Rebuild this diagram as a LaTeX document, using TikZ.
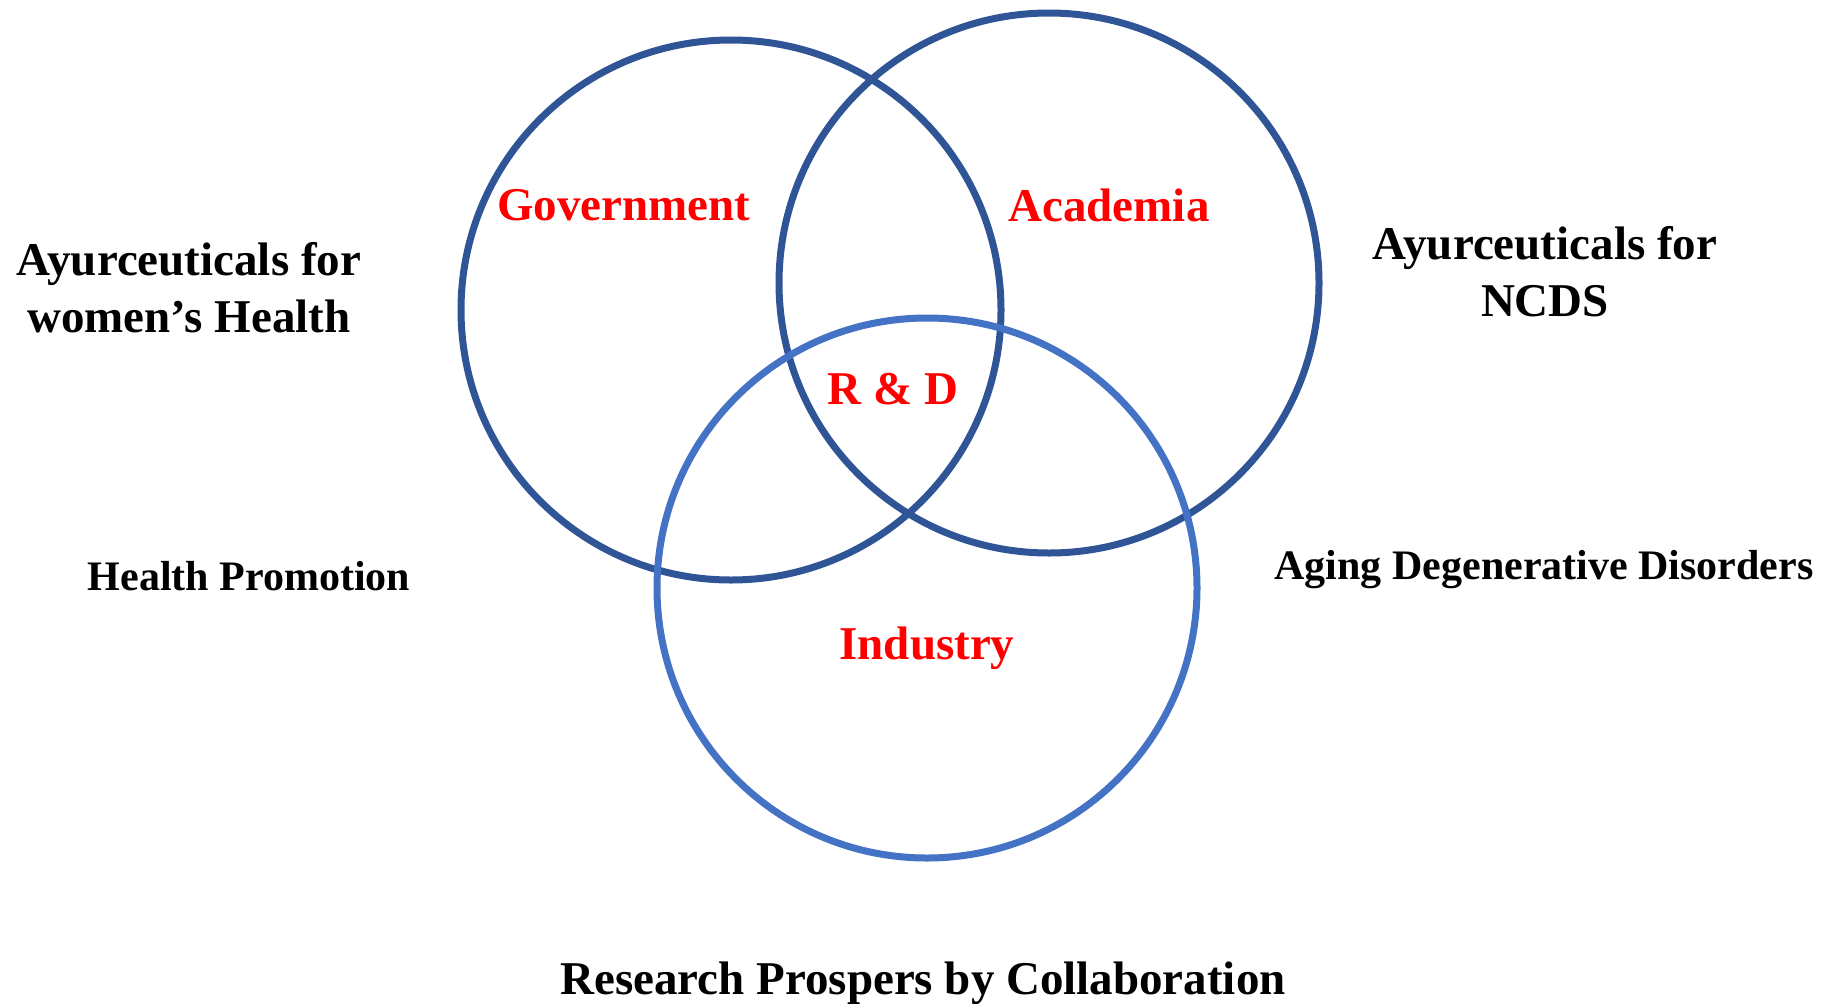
\documentclass[tikz,border=0pt]{standalone}
\usepackage{fontspec}
\setmainfont{Liberation Serif}
\usepackage{xcolor}
\usetikzlibrary{positioning}
\definecolor{ringdark}{RGB}{47,85,151}
\definecolor{ringlight}{RGB}{68,114,196}
\definecolor{labelred}{RGB}{255,0,0}

\begin{document}
\begin{tikzpicture}[x=1pt, y=-1pt,
  ring/.style={circle, draw=ringdark, line width=7pt, minimum size=540pt, inner sep=0pt},
  partner/.style={text=labelred, font=\fontsize{47}{56}\selectfont\bfseries},
  area/.style={align=center, font=\fontsize{47}{57}\selectfont\bfseries},
  smallarea/.style={font=\fontsize{42}{50}\selectfont\bfseries}]
\useasboundingbox (0,0) rectangle (1826,1004);
% Draw the three overlapping circles
\node[ring] (gov) at (731,310) {};
\node[ring] (acad) at (1049,283) {};
\node[ring, draw=ringlight] (ind) at (927,588) {};

% Partners inside the circles
\node[partner] (govlabel) at (624,205) {Government};
\node[partner] (acadlabel) at (1109,205) {Academia};
\node[partner] (rd) at (893,389) {R \& D};
\node[partner] (indlabel) at (927,648) {Industry};

% Application areas around
\node[area] (women) at (189,288) {Ayurceuticals for\\women’s Health};
\node[area] (ncds) at (1545,272) {Ayurceuticals for\\NCDS};
\node[smallarea] (promo) at (249,576) {Health Promotion};
\node[smallarea] (aging) at (1544,570) {Aging Degenerative Disorders};
\node[area] (title) at (923,983) {Research Prospers by Collaboration};
\end{tikzpicture}
\end{document}
